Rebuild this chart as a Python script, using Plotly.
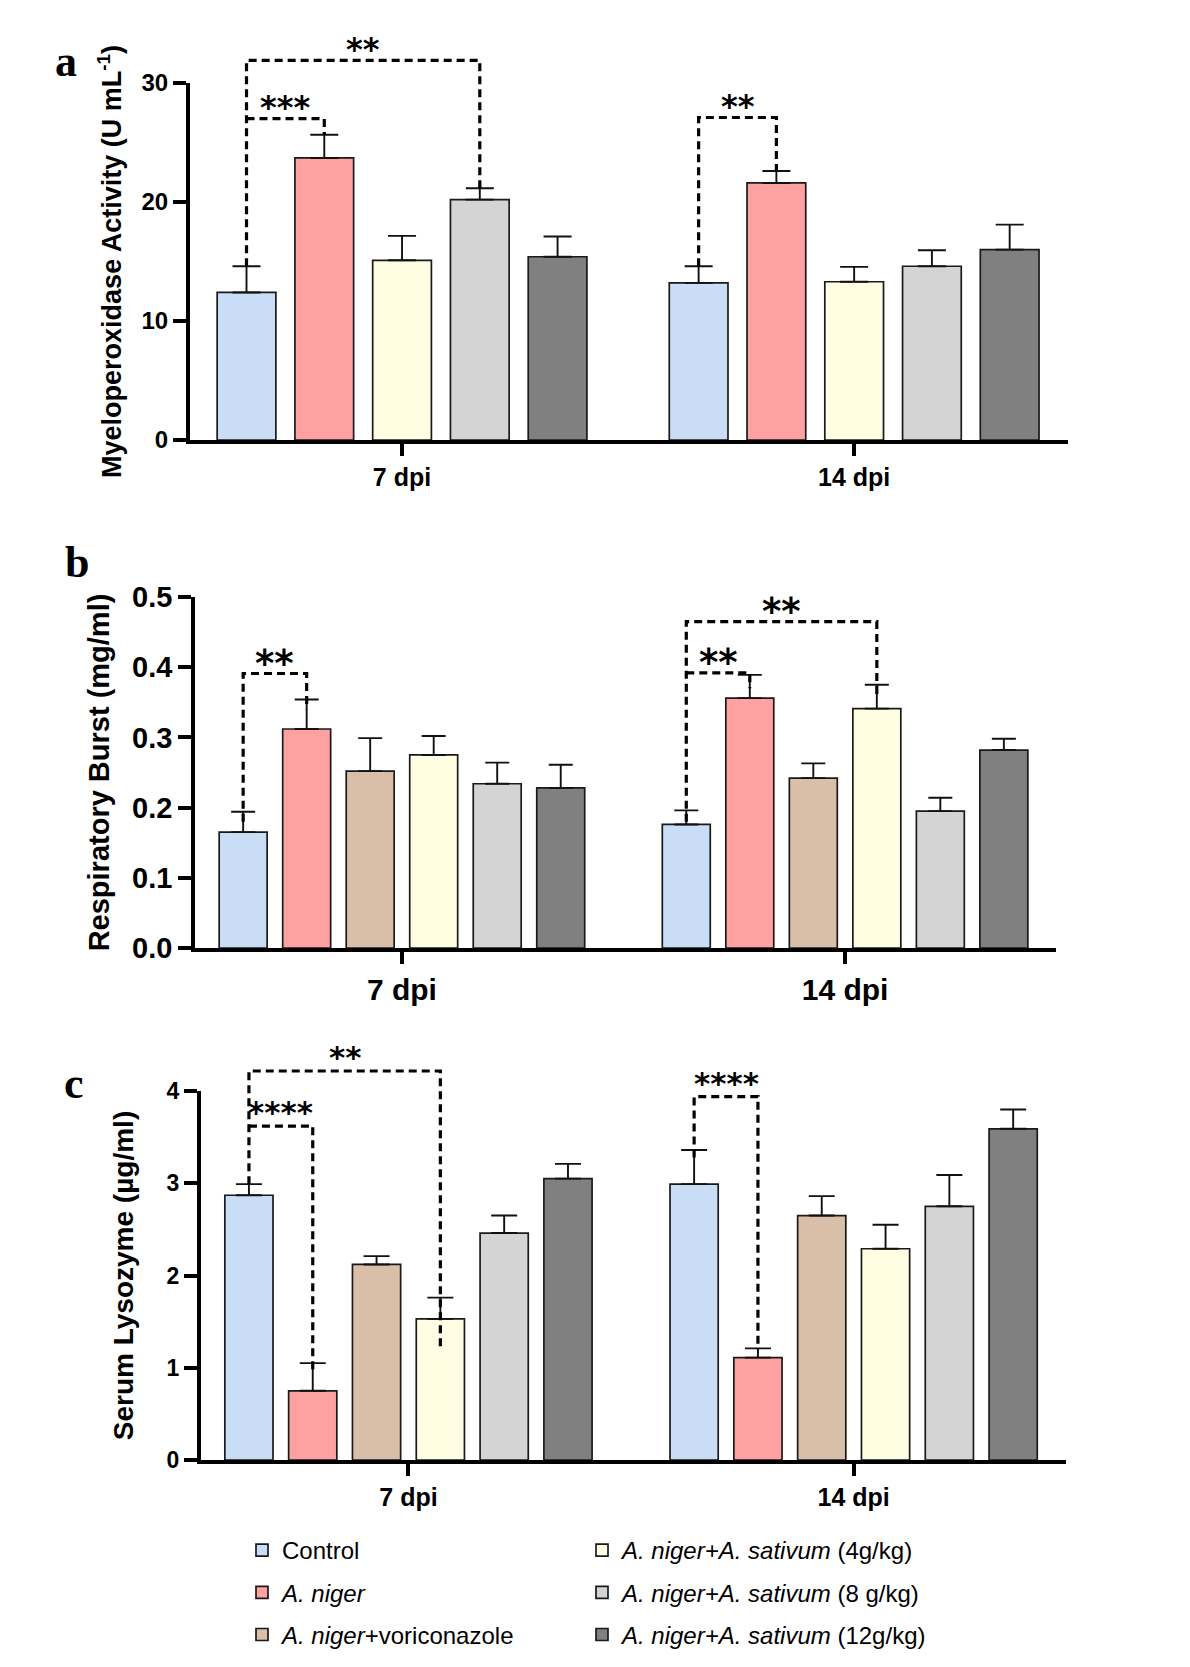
import plotly.graph_objects as go

# ---------------- data ----------------
groups = ["7 dpi", "14 dpi"]

series_names = [
    "Control",
    "<i>A. niger</i>",
    "<i>A. niger</i>+voriconazole",
    "<i>A. niger+A. sativum</i> (4g/kg)",
    "<i>A. niger+A. sativum</i> (8 g/kg)",
    "<i>A. niger+A. sativum</i> (12g/kg)",
]
series_colors = ["#C9DDF6", "#FFA1A1", "#D9BEA8", "#FFFDE2", "#D4D4D4", "#808080"]

# panel a: myeloperoxidase (no voriconazole group)
mpo_series = [0, 1, 3, 4, 5]
mpo_mean = [[12.4, 13.2], [23.7, 21.6], [15.1, 13.3], [20.2, 14.6], [15.4, 16.0]]
mpo_sd = [[2.2, 1.4], [1.95, 1.0], [2.05, 1.25], [0.95, 1.35], [1.7, 2.1]]

# panel b: respiratory burst
rb_series = [0, 1, 2, 3, 4, 5]
rb_mean = [[0.165, 0.176], [0.312, 0.356], [0.252, 0.242], [0.275, 0.341], [0.234, 0.195], [0.228, 0.282]]
rb_sd = [[0.029, 0.020], [0.042, 0.033], [0.047, 0.021], [0.027, 0.034], [0.030, 0.019], [0.033, 0.016]]

# panel c: serum lysozyme
lz_series = [0, 1, 2, 3, 4, 5]
lz_mean = [[2.87, 2.99], [0.75, 1.11], [2.12, 2.65], [1.53, 2.29], [2.46, 2.75], [3.05, 3.59]]
lz_sd = [[0.12, 0.37], [0.30, 0.10], [0.09, 0.21], [0.23, 0.26], [0.19, 0.34], [0.16, 0.21]]

# significance brackets: (group, bar i, bar j, y_top, y_left_end, y_right_end, label)
mpo_sig = [(0, 0, 3, 31.9, 14.6, 21.1, "**"), (0, 0, 1, 27.0, 27.0, 25.7, "***"),
           (1, 0, 1, 27.1, 14.6, 22.6, "**")]
rb_sig = [(0, 0, 1, 0.391, 0.18, 0.34, "**"), (1, 0, 3, 0.465, 0.18, 0.355, "**"),
          (1, 0, 1, 0.392, 0.392, 0.37, "**")]
lz_sig = [(0, 0, 3, 4.217, 2.99, 1.23, "**"), (0, 0, 1, 3.62, 3.62, 0.98, "****"),
          (1, 0, 1, 3.94, 3.28, 1.2, "****")]

# ---------------- layout constants ----------------
W, H = 1190, 1667
BARGAP, BARGROUPGAP = 0.14, 0.245
SANS = "Liberation Sans, Arial, sans-serif"
STAR = "DejaVu Sans, Liberation Sans, sans-serif"

panels = [
    dict(ax="", letter="a", series=mpo_series, mean=mpo_mean, sd=mpo_sd, sig=mpo_sig,
         xdom=[190 / W, 1068 / W], xr=[-0.469, 1.473], ydom=[1 - 440 / H, 1 - 83 / H], yr=[0, 30],
         dtick=10, tickfmt="", tfs=24, xfs=25, titfs=27, tw="bold", lw=4, capw=14, sigfs=32, sigoff=19,
         title="Myeloperoxidase Activity (U mL<sup>-1</sup>)", stand=13, letterpos=(66, 62)),
    dict(ax="2", letter="b", series=rb_series, mean=rb_mean, sd=rb_sd, sig=rb_sig,
         xdom=[195 / W, 1056 / W], xr=[-0.467, 1.476], ydom=[1 - 948 / H, 1 - 597 / H], yr=[0, 0.5],
         dtick=0.1, tickfmt=".1f", tfs=29, xfs=30, titfs=29, tw="bold", lw=3.5, capw=12, sigfs=37, sigoff=19,
         title="Respiratory Burst (mg/ml)", stand=15, letterpos=(77, 562)),
    dict(ax="3", letter="c", series=lz_series, mean=lz_mean, sd=lz_sd, sig=lz_sig,
         xdom=[201 / W, 1066 / W], xr=[-0.466, 1.477], ydom=[1 - 1460 / H, 1 - 1091 / H], yr=[0, 4],
         dtick=1, tickfmt="", tfs=23, xfs=25, titfs=28, tw="bold", lw=4, capw=13, sigfs=31, sigoff=21,
         title="Serum Lysozyme (µg/ml)", stand=26, letterpos=(74, 1083)),
]

fig = go.Figure()
shapes, annotations = [], []
layout = {}


def to_paper_x(p, xv):
    return p["xdom"][0] + (xv - p["xr"][0]) / (p["xr"][1] - p["xr"][0]) * (p["xdom"][1] - p["xdom"][0])


def to_paper_y(p, yv):
    return p["ydom"][0] + (yv - p["yr"][0]) / (p["yr"][1] - p["yr"][0]) * (p["ydom"][1] - p["ydom"][0])


def bar_center(g, k, n):
    slot = (1 - BARGAP) / n
    return g - (1 - BARGAP) / 2 + (k + 0.5) * slot


for pi, p in enumerate(panels):
    xa, ya = "x" + p["ax"], "y" + p["ax"]
    n = len(p["series"])
    for k, s in enumerate(p["series"]):
        is_legend = pi == 2
        fig.add_trace(go.Bar(
            x=groups, y=p["mean"][k], name=series_names[s],
            xaxis=xa, yaxis=ya,
            marker=dict(color=series_colors[s], line=dict(color="#1a1a1a", width=1.7)),
            error_y=dict(type="data", array=p["sd"][k], arrayminus=[0] * len(groups), symmetric=False,
                         color="#111111", thickness=1.9, width=p["capw"]),
            legendgroup="s%d" % s, showlegend=is_legend,
            legend="legend" if s < 3 else "legend2",
        ))
    axkey = "xaxis" + p["ax"]
    aykey = "yaxis" + p["ax"]
    layout[axkey] = dict(
        domain=p["xdom"], range=p["xr"], type="category", anchor=ya, automargin=False,
        showline=True, linecolor="black", linewidth=p["lw"], ticks="outside", ticklen=12,
        tickwidth=p["lw"], tickcolor="black", showgrid=False, zeroline=False,
        tickfont=dict(family=SANS, size=p["xfs"], color="black", weight="bold"),
        fixedrange=True,
    )
    layout[aykey] = dict(
        domain=p["ydom"], range=p["yr"], anchor=xa, dtick=p["dtick"], tick0=0, tickformat=p["tickfmt"],
        automargin=False,
        showline=True, linecolor="black", linewidth=p["lw"], ticks="outside", ticklen=13,
        tickwidth=p["lw"], tickcolor="black", showgrid=False, zeroline=False,
        tickfont=dict(family=SANS, size=p["tfs"], color="black", weight="bold"),
        title=dict(text=p["title"], standoff=p["stand"],
                   font=dict(family=SANS, size=p["titfs"], color="black", weight=p["tw"])),
        fixedrange=True,
    )
    # significance brackets
    for (g, i, j, ytop, yl, yr_, lab) in p["sig"]:
        xl = to_paper_x(p, bar_center(g, i, n))
        xr = to_paper_x(p, bar_center(g, j, n))
        yt = to_paper_y(p, ytop)
        path = "M %.5f,%.5f L %.5f,%.5f L %.5f,%.5f L %.5f,%.5f" % (
            xl, to_paper_y(p, yl), xl, yt, xr, yt, xr, to_paper_y(p, yr_))
        shapes.append(dict(type="path", path=path, xref="paper", yref="paper",
                           line=dict(color="black", width=3.2, dash="8px,5px")))
        annotations.append(dict(x=(xl + xr) / 2, y=yt, xref="paper", yref="paper", text=lab,
                                showarrow=False, xanchor="center", yanchor="middle",
                                yshift=p["sigoff"] - 0.23 * p["sigfs"],
                                font=dict(family=STAR, size=p["sigfs"], color="black", weight="bold")))
    lx, ly = p["letterpos"]
    annotations.append(dict(x=lx / W, y=1 - ly / H, xref="paper", yref="paper", text="<b>%s</b>" % p["letter"],
                            showarrow=False, xanchor="center", yanchor="middle",
                            font=dict(family="Liberation Serif, Times New Roman, serif", size=44, color="black")))

legend_font = dict(family="Liberation Sans Narrow, Arial Narrow, Liberation Sans, Arial", size=24, color="black")
fig.update_layout(
    width=W, height=H, margin=dict(l=0, r=0, t=0, b=0, autoexpand=False),
    paper_bgcolor="white", plot_bgcolor="white",
    barmode="group", bargap=BARGAP, bargroupgap=BARGROUPGAP,
    shapes=shapes, annotations=annotations,
    legend=dict(x=242 / W, y=1 - 1528 / H, xanchor="left", yanchor="top", font=legend_font,
                tracegroupgap=8, bgcolor="rgba(0,0,0,0)", traceorder="grouped"),
    legend2=dict(x=582 / W, y=1 - 1528 / H, xanchor="left", yanchor="top", font=legend_font,
                 tracegroupgap=8, bgcolor="rgba(0,0,0,0)", traceorder="grouped"),
    **layout,
)

fig.write_html("out.html")
